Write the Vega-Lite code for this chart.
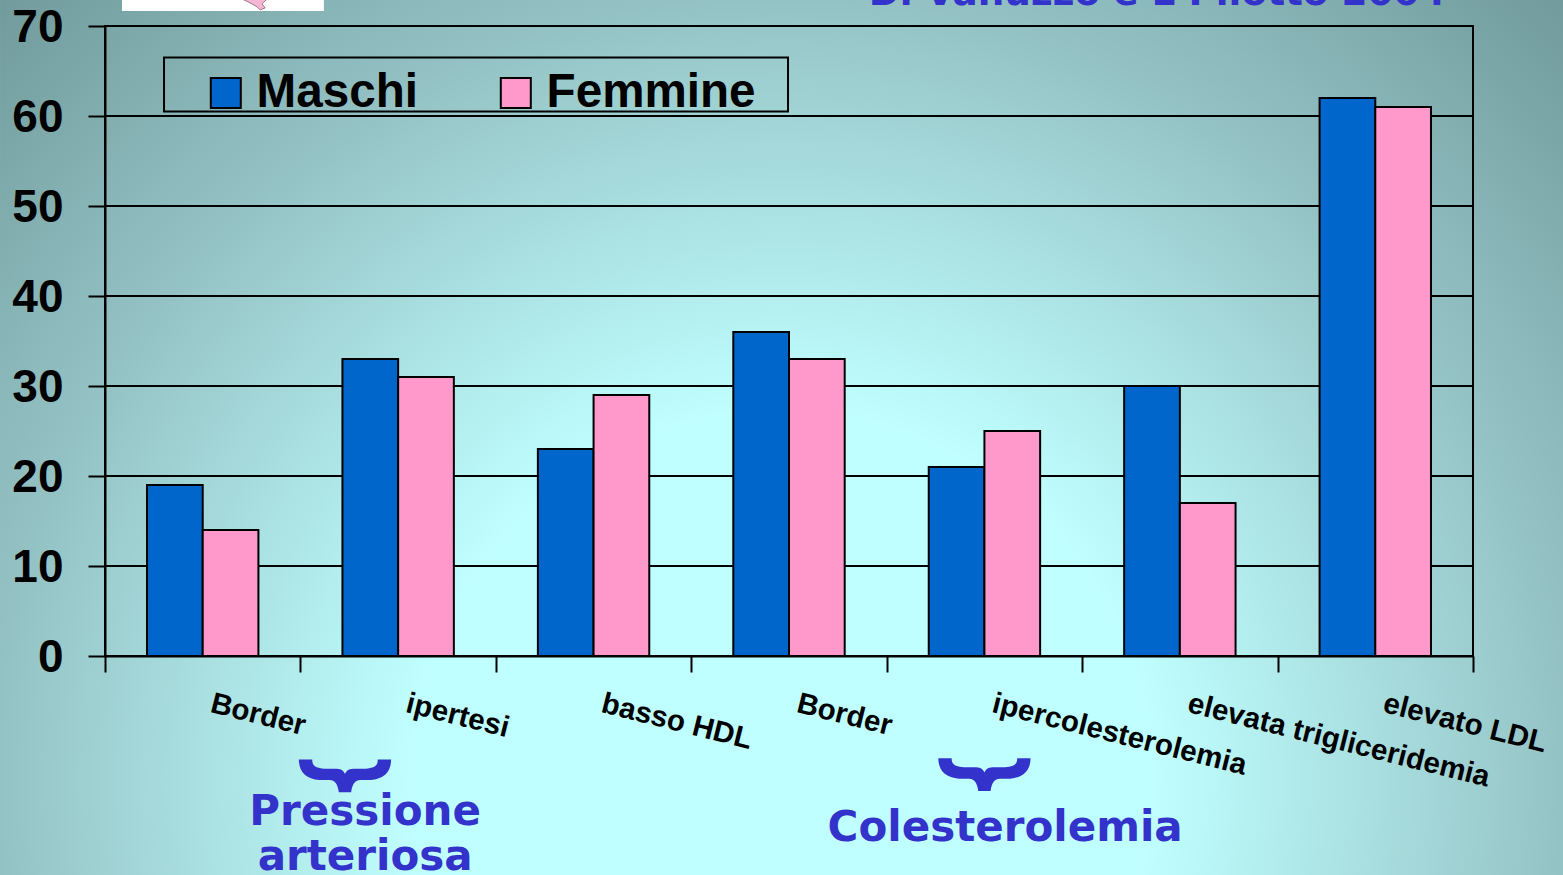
{"$schema":"https://vega.github.io/schema/vega-lite/v6.json","width":1368,"height":630,"autosize":"none","padding":{"left":105,"top":26,"right":90,"bottom":219},"background":"#94c2c4","config":{"view":{"stroke":null}},"resolve":{"scale":{"x":"independent"},"axis":{"x":"independent"}},"datasets":{"bars":[{"voce":"Border","sesso":"Maschi","valore":19},{"voce":"Border","sesso":"Femmine","valore":14},{"voce":"ipertesi","sesso":"Maschi","valore":33},{"voce":"ipertesi","sesso":"Femmine","valore":31},{"voce":"basso HDL","sesso":"Maschi","valore":23},{"voce":"basso HDL","sesso":"Femmine","valore":29},{"voce":"Border ","sesso":"Maschi","valore":36},{"voce":"Border ","sesso":"Femmine","valore":33},{"voce":"ipercolesterolemia","sesso":"Maschi","valore":21},{"voce":"ipercolesterolemia","sesso":"Femmine","valore":25},{"voce":"elevata trigliceridemia","sesso":"Maschi","valore":30},{"voce":"elevata trigliceridemia","sesso":"Femmine","valore":17},{"voce":"elevato LDL","sesso":"Maschi","valore":62},{"voce":"elevato LDL","sesso":"Femmine","valore":61}]},"layer":[{"data":{"values":[{"a":-0.537,"b":7.462,"c":72.9,"d":-100.8}]},"mark":{"type":"rect","fill":{"gradient":"radial","x1":0.5,"y1":0.5,"x2":0.5,"y2":0.5,"r1":0,"r2":0.74,"stops":[{"offset":0,"color":"#c0ffff"},{"offset":0.32,"color":"#c0ffff"},{"offset":0.68,"color":"#94c2c4"},{"offset":1,"color":"#6b9496"}]}},"encoding":{"x":{"field":"a","type":"quantitative","scale":{"domain":[0,7]},"axis":null},"x2":{"field":"b"},"y":{"field":"c","type":"quantitative","scale":{"domain":[0,70],"nice":false},"axis":{"orient":"left","values":[0,10,20,30,40,50,60,70],"title":null,"grid":false,"domainColor":"#000","domainWidth":2,"tickColor":"#000","tickWidth":2,"tickSize":17,"labelFont":"Liberation Sans","labelFontWeight":"bold","labelFontSize":46,"labelColor":"#000","labelPadding":25,"labelOffset":1,"zindex":1}},"y2":{"field":"d"}}},{"data":{"values":[{"a":0.087,"b":1.12,"c":71.67,"d":73}]},"mark":{"type":"rect","fill":"#ffffff"},"encoding":{"x":{"field":"a","type":"quantitative","scale":{"domain":[0,7]},"axis":null},"x2":{"field":"b"},"y":{"field":"c","type":"quantitative"},"y2":{"field":"d"}}},{"data":{"values":[{"a":0.763,"c":72.45}]},"mark":{"type":"point","shape":"M-14,-6 L8,-6 L12,-4 L8,0 L11,4 L6,6 L3,3 L-2,0 Z","filled":true,"fill":"#f4b6d2","stroke":"#a07a90","strokeWidth":1,"size":4,"opacity":1},"encoding":{"x":{"field":"a","type":"quantitative","scale":{"domain":[0,7]},"axis":null},"y":{"field":"c","type":"quantitative"}}},{"data":{"values":[{"g":10},{"g":20},{"g":30},{"g":40},{"g":50},{"g":60}]},"mark":{"type":"rule","color":"#000","strokeWidth":2},"encoding":{"y":{"field":"g","type":"quantitative"}}},{"data":{"values":[{"a":0,"b":7,"c":0,"d":70}]},"mark":{"type":"rect","fill":null,"stroke":"#000","strokeWidth":2},"encoding":{"x":{"field":"a","type":"quantitative","scale":{"domain":[0,7]},"axis":{"orient":"bottom","values":[0,1,2,3,4,5,6,7],"labels":false,"title":null,"grid":false,"domainColor":"#000","domainWidth":2,"tickColor":"#000","tickWidth":2,"tickSize":16,"zindex":1}},"x2":{"field":"b"},"y":{"field":"c","type":"quantitative"},"y2":{"field":"d"}}},{"data":{"values":[{"a":0.302,"b":3.495,"c":66.5,"d":60.5}]},"mark":{"type":"rect","fill":null,"stroke":"#000","strokeWidth":2},"encoding":{"x":{"field":"a","type":"quantitative","scale":{"domain":[0,7]},"axis":null},"x2":{"field":"b"},"y":{"field":"c","type":"quantitative"},"y2":{"field":"d"}}},{"data":{"name":"bars"},"mark":{"type":"bar","stroke":"#000","strokeWidth":2},"encoding":{"x":{"field":"voce","type":"nominal","sort":null,"scale":{"paddingInner":0.43,"paddingOuter":0.215},"axis":{"orient":"bottom","title":null,"ticks":false,"domain":false,"labelAngle":14,"labelAlign":"left","labelBaseline":"top","labelPadding":33,"labelOffset":12,"labelFont":"Liberation Sans","labelFontWeight":"bold","labelFontSize":29.5,"labelColor":"#000","labelOverlap":false,"labelLimit":0,"zindex":1}},"xOffset":{"field":"sesso","sort":["Maschi","Femmine"],"scale":{"domain":["Maschi","Femmine"],"paddingInner":0,"paddingOuter":0}},"y":{"field":"valore","type":"quantitative"},"color":{"field":"sesso","type":"nominal","scale":{"domain":["Maschi","Femmine"],"range":["#0066cc","#ff99cc"]},"legend":{"orient":"none","legendX":97,"legendY":43,"direction":"horizontal","title":null,"symbolType":"square","symbolSize":900,"symbolStrokeColor":"#000","symbolStrokeWidth":2,"labelFont":"Liberation Sans","labelFontWeight":"bold","labelFontSize":47.6,"labelColor":"#000","columnPadding":74,"labelOffset":7,"padding":0,"labelLimit":0}}}},{"data":{"values":[{"a":1.228,"c":-13.33},{"a":4.5,"c":-13.17}]},"mark":{"type":"point","shape":"M-45,-16 L-32,-16 C-32,-9 -28,-8 -20,-7 L-8,-7 C-3,-7 -1,-4 0,-2 C1,-4 3,-7 8,-7 L20,-7 C28,-8 32,-9 32,-16 L45,-16 C45,-4 38,3 25,4 L15,4 C10,4 7,8 6,16 L-6,16 C-7,8 -10,4 -15,4 L-25,4 C-38,3 -45,-4 -45,-16 Z","filled":true,"fill":"#3333cc","strokeWidth":0,"size":4.2,"opacity":1},"encoding":{"x":{"field":"a","type":"quantitative","scale":{"domain":[0,7]},"axis":null},"y":{"field":"c","type":"quantitative"}}},{"data":{"values":[{"a":1.331,"c":-17.3,"t":"Pressione"},{"a":1.331,"c":-22.3,"t":"arteriosa"},{"a":4.606,"c":-19.1,"t":"Colesterolemia"}]},"mark":{"type":"text","font":"DejaVu Sans","fontWeight":"bold","fontSize":42,"color":"#3333cc"},"encoding":{"x":{"field":"a","type":"quantitative","scale":{"domain":[0,7]},"axis":null},"y":{"field":"c","type":"quantitative"},"text":{"field":"t"}}},{"data":{"values":[{"a":5.384,"c":73.6,"t":"Di Vanuzzo e L Pilotto 2004"}]},"mark":{"type":"text","font":"DejaVu Sans","fontWeight":"bold","fontSize":37.4,"color":"#3333cc"},"encoding":{"x":{"field":"a","type":"quantitative","scale":{"domain":[0,7]},"axis":null},"y":{"field":"c","type":"quantitative"},"text":{"field":"t"}}}]}
